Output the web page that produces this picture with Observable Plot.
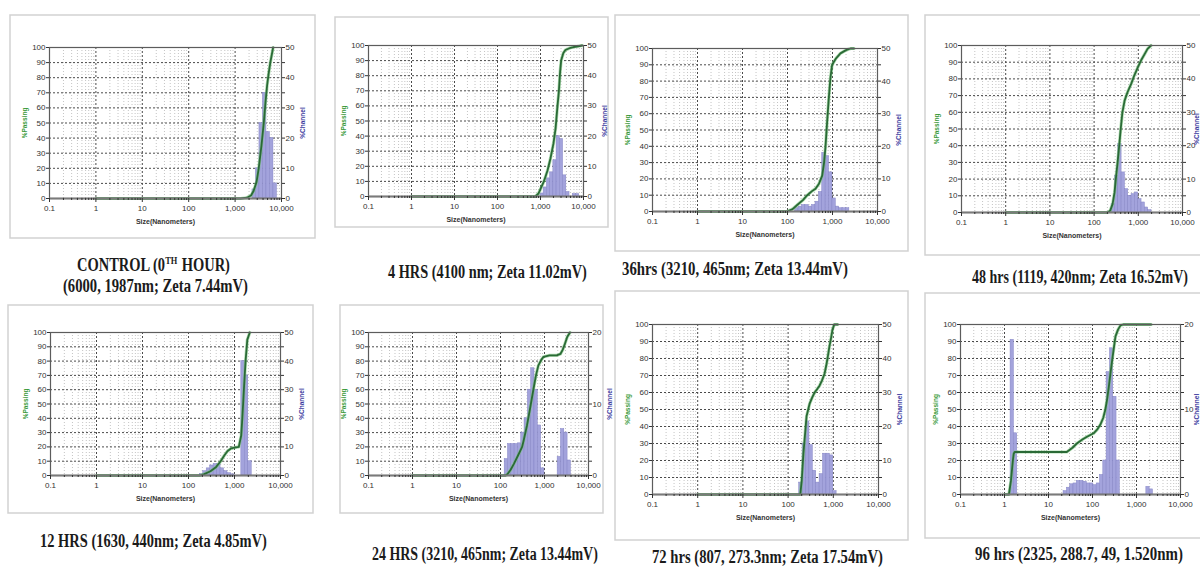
<!DOCTYPE html>
<html>
<head>
<meta charset="utf-8">
<script src="https://cdn.jsdelivr.net/npm/d3@7"></script>
<script src="https://cdn.jsdelivr.net/npm/@observablehq/plot@0.6"></script>
<style>
  html, body { margin: 0; padding: 0; background: #fff; }
  #wrap { position: relative; width: 1200px; height: 568px; overflow: hidden; background: #fff; }
  #wrap > svg { position: absolute; }
</style>
</head>
<body>
<div id="wrap"></div>
<script>
// ---------- shared axis values ----------
const xTickValues = [0.1, 1, 10, 100, 1000, 10000];
const xTickLabels = ["0.1", "1", "10", "100", "1,000", "10,000"];
const yTickValues = [0, 10, 20, 30, 40, 50, 60, 70, 80, 90, 100];
const minorMultipliers = [2, 3, 4, 5, 6, 7, 8, 9];
const RATIO = Math.pow(2, 0.25); // instrument channel width (upper/lower edge)

// ---------- CONTROL (0th hour) ----------
const p1Size = [2815, 3348, 3981, 4735, 5630, 6695, 7962];
const p1Chan = [3, 10, 25, 35, 22, 20, 5];
const p1CurveX = [1, 1300, 1800, 2200, 2500, 2900, 3230, 3700, 4150, 4500, 4900, 5300, 5740, 6600];
const p1CurveY = [0, 0, 0.5, 2, 5, 11, 20, 35, 50, 63, 75, 83, 90, 100];

// ---------- 4 HRS ----------
const p2Size = [1184, 1408, 1674, 1991, 2367, 2815, 3348, 3981, 4735, 6695, 7962];
const p2Chan = [1, 3, 6, 8, 12, 20, 19, 7, 1.5, 0.8, 0.8];
const p2CurveX = [1, 760, 900, 1200, 1450, 1700, 2000, 2240, 2450, 2680, 2850, 3020, 3400, 3800, 5000, 5900, 7500, 9300];
const p2CurveY = [0, 0, 2, 10, 17, 25, 35, 45, 58, 70, 82, 90, 95, 97, 98.5, 99, 99.5, 100];

// ---------- 36 hrs ----------
const p3Size = [176, 209.3, 248.9, 296, 352, 418.6, 497.8, 592, 704, 837.2, 995.6, 1184, 1408, 1674, 1991, 2367];
const p3Chan = [1, 1.5, 2, 2, 1.5, 2, 3, 6, 18, 17, 12, 4, 1.5, 1, 1, 1];
const p3CurveX = [1, 98, 130, 164, 220, 275, 350, 420, 500, 590, 650, 700, 760, 830, 900, 980, 1200, 1500, 2000, 2520, 3000];
const p3CurveY = [0, 0, 1.5, 4, 7, 10, 12.5, 14, 17, 22, 30, 40, 55, 70, 82, 90, 94, 97, 99, 100, 100];

// ---------- 48 hrs ----------
const p4Size = [296, 352, 418.6, 497.8, 592, 704, 837.2, 995.6, 1184, 1408, 1674, 1991];
const p4Chan = [2.5, 11, 20.5, 12, 7, 5, 5.5, 6, 4, 3, 1.5, 0.7];
const p4CurveX = [1, 200, 230, 262, 290, 310, 340, 370, 400, 437, 490, 570, 690, 810, 980, 1150, 1400, 1620, 1940];
const p4CurveY = [0, 0, 1, 5, 12, 20, 30, 40, 50, 60, 67, 72, 77, 82, 87, 91, 95, 98, 100];

// ---------- 12 HRS ----------
const p5Size = [209.3, 248.9, 296, 352, 418.6, 497.8, 592, 704, 837.2, 995.6, 1674, 1991, 2367];
const p5Chan = [0.5, 1.5, 2.5, 3.5, 4, 4, 2.5, 1.5, 0.8, 0.4, 40, 35, 5];
const p5CurveX = [1, 180, 220, 300, 400, 500, 600, 700, 850, 1000, 1240, 1400, 1480, 1600, 1740, 1900, 2150];
const p5CurveY = [0, 0, 1, 3, 6, 10, 14, 17, 19, 19.5, 20, 28, 40, 60, 80, 95, 100];

// ---------- 24 HRS ----------
const p6Size = [148, 176, 209.3, 248.9, 296, 352, 418.6, 497.8, 592, 704, 837.2, 995.6, 2367, 2815, 3348, 3981];
const p6Chan = [2.3, 4.4, 4.4, 4.4, 4.5, 6, 8, 12, 15, 12, 7, 1, 2.6, 6.5, 6, 2.1];
const p6CurveX = [1, 130, 145, 170, 200, 250, 310, 333, 400, 468, 562, 640, 726, 850, 955, 1300, 1900, 2300, 2600, 2900, 3300, 3800];
const p6CurveY = [0, 0, 1, 4, 8, 14, 20, 24, 35, 46.5, 60.5, 70, 77, 81, 83, 84, 84, 85, 88, 92, 97, 100];

// ---------- 72 hrs ----------
const p7Size = [209.3, 248.9, 296, 352, 418.6, 497.8, 592, 704, 837.2, 995.6, 1184];
const p7Chan = [3.5, 15, 21.5, 14.5, 7, 3.5, 6, 12, 12, 11.5, 1];
const p7CurveX = [1, 186, 200, 218, 256, 300, 340, 386, 440, 496, 560, 640, 700, 755, 820, 892, 960, 1050, 1250];
const p7CurveY = [0, 0, 8, 24, 46, 53.5, 57, 60, 62, 64, 67, 71, 76, 81, 87, 92, 97, 100, 100];

// ---------- 96 hrs ----------
const p8Size = [1.635, 1.945, 26.16, 31.11, 37, 44, 52.33, 62.23, 74, 88, 104.7, 124.5, 148, 176, 209.3, 248.9, 296, 352, 418.6, 1991, 2367];
const p8Chan = [18.2, 7.2, 0.4, 0.8, 1.2, 1.3, 1.6, 1.6, 1.5, 1.3, 1.3, 1.1, 1.3, 2.3, 4, 14.4, 17.2, 11.5, 4, 0.9, 0.6];
const p8CurveX = [1, 1.26, 1.4, 1.55, 1.62, 1.7, 26, 35, 44, 60, 75, 106, 130, 150, 175, 196, 215, 234, 255, 280, 305, 333, 380, 434, 500, 2150];
const p8CurveY = [0, 0, 8, 20, 24, 25, 25, 27.5, 30, 32.5, 34, 36, 38.5, 41, 45, 50, 56, 63, 71, 79, 86, 93, 97, 99.5, 100, 100];

// ---------- captions ----------
const captionFirst = ["CONTROL (0", "TH", " HOUR)"];
const captions = [
  "(6000, 1987nm; Zeta 7.44mV)",
  "4 HRS (4100 nm; Zeta 11.02mV)",
  "36hrs (3210, 465nm; Zeta 13.44mV)",
  "48 hrs (1119, 420nm; Zeta 16.52mV)",
  "12 HRS (1630, 440nm; Zeta 4.85mV)",
  "24 HRS (3210, 465nm; Zeta 13.44mV)",
  "72 hrs (807, 273.3nm; Zeta 17.54mV)",
  "96 hrs (2325, 288.7, 49, 1.520nm)"
];

// ---------- layout ----------
const panels = [
  {sizes: p1Size, chans: p1Chan, cx: p1CurveX, cy: p1CurveY, rmax: 50, box: [49, 281, 47, 198], chDx: 21},
  {sizes: p2Size, chans: p2Chan, cx: p2CurveX, cy: p2CurveY, rmax: 50, box: [368, 583, 45, 196], chDx: 21},
  {sizes: p3Size, chans: p3Chan, cx: p3CurveX, cy: p3CurveY, rmax: 50, box: [652, 877, 48, 211], chDx: 21},
  {sizes: p4Size, chans: p4Chan, cx: p4CurveX, cy: p4CurveY, rmax: 50, box: [961, 1182, 45, 212], chDx: 14.5},
  {sizes: p5Size, chans: p5Chan, cx: p5CurveX, cy: p5CurveY, rmax: 50, box: [50, 280, 332, 475], chDx: 21},
  {sizes: p6Size, chans: p6Chan, cx: p6CurveX, cy: p6CurveY, rmax: 20, box: [368, 588, 332, 475], chDx: 21},
  {sizes: p7Size, chans: p7Chan, cx: p7CurveX, cy: p7CurveY, rmax: 50, box: [652, 878, 324, 494], chDx: 21},
  {sizes: p8Size, chans: p8Chan, cx: p8CurveX, cy: p8CurveY, rmax: 20, box: [960, 1180, 324, 494], chDx: 16}
];
const frames = [
  [10, 15, 315, 238], [335, 17, 608, 227], [615, 15, 908, 251], [925, 15, 1205, 255],
  [8, 305, 313, 513], [340, 305, 603, 513], [615, 291, 908, 540], [925, 293, 1205, 538]
];

const wrap = document.getElementById("wrap");
const FONT = "'Liberation Serif', 'DejaVu Serif', serif";

// background: frames and captions
const bg = d3.select(wrap).append("svg")
  .attr("width", 1200).attr("height", 568)
  .style("left", "0px").style("top", "0px");
bg.selectAll("rect.fr").data(frames).join("rect")
  .attr("x", d => d[0]).attr("y", d => d[1])
  .attr("width", d => d[2] - d[0]).attr("height", d => d[3] - d[1])
  .attr("fill", "#fff").attr("stroke", "#d2d2d2").attr("stroke-width", 1.5);

// captions: natural-width text, compressed horizontally with a transform
function caption(parts, x0, x1, y) {
  const g = bg.append("g");
  let cursor = 0;
  parts.forEach(part => {
    const t = g.append("text")
      .attr("x", cursor).attr("y", part.sup ? -7 : 0)
      .attr("font-family", FONT).attr("font-weight", "bold")
      .attr("font-size", part.sup ? 11 : 19).attr("fill", "#1b1b1b")
      .style("white-space", "pre")
      .text(part.s);
    cursor += t.node().getComputedTextLength() + (part.sup ? 1 : 0);
  });
  g.attr("transform", `translate(${x0},${y}) scale(${(x1 - x0) / cursor},1)`);
}
caption(captionFirst.map((s, i) => ({s, sup: i === 1})), 77, 230, 271);

const capPos = [
  [63, 248, 292], [388, 587, 278], [622, 848, 275],
  [972, 1188, 283], [40, 267, 547], [372, 598, 560], [652, 883, 563], [975, 1183, 560]
];
capPos.forEach((p, i) => caption([{s: captions[i], sup: false}], p[0], p[1], p[2]));

const minor = xTickValues.slice(0, 5).flatMap(d => minorMultipliers.map(m => d * m));
const xLabelMap = new Map(xTickValues.map((v, i) => [v, xTickLabels[i]]));

panels.forEach(p => {
  const [L, R, T, B] = p.box;
  const ml = 40, mr = 40, mt = 8, mb = 34;
  const k = 100 / p.rmax;
  const bars = p.sizes.map((s, i) => ({x1: s / RATIO, x2: s, v: p.chans[i] * k}));
  const curve = p.cx.map((x, i) => ({x, y: p.cy[i]}));
  const rightFmt = p.rmax === 50
    ? (d => d % 20 === 0 ? String(d / 2) : "")
    : (d => d % 50 === 0 ? String(d / 5) : "");
  const chart = Plot.plot({
    width: R - L + ml + mr,
    height: B - T + mt + mb,
    marginLeft: ml, marginRight: mr, marginTop: mt, marginBottom: mb,
    x: {type: "log", domain: [0.1, 10000]},
    y: {domain: [0, 100]},
    style: {background: "transparent", fontFamily: "'Liberation Sans', Arial, sans-serif", fontSize: "8px", color: "#333", maxWidth: "none", overflow: "visible"},
    marks: [
      Plot.ruleX(minor, {stroke: "#c4c4c4", strokeDasharray: "1,2"}),
      Plot.ruleX([1, 10, 100, 1000], {stroke: "#4a4a4a", strokeDasharray: "2,2"}),
      Plot.ruleY([10, 20, 30, 40, 50, 60, 70, 80, 90], {stroke: "#4a4a4a", strokeDasharray: "2,2"}),
      Plot.rect(bars, {x1: "x1", x2: "x2", y1: () => 0, y2: "v", fill: "#a3a3dc", stroke: "#8585c6", strokeWidth: 0.5}),
      Plot.line(curve, {x: "x", y: "y", stroke: "#7bc47f", strokeWidth: 3.2, strokeOpacity: 0.6}),
      Plot.line(curve, {x: "x", y: "y", stroke: "#2a6a36", strokeWidth: 1.8}),
      Plot.frame({stroke: "#5c5c5c", strokeWidth: 1.2}),
      Plot.ruleY([0], {stroke: "#7a7a7a", strokeWidth: 2}),
      Plot.axisY({anchor: "left", ticks: yTickValues, tickSize: 3, tickPadding: 1, label: null, fontSize: 8}),
      Plot.axisY({anchor: "right", ticks: yTickValues, tickFormat: rightFmt, tickSize: 3, tickPadding: 1, label: null, fontSize: 8}),
      Plot.axisX({ticks: xTickValues, tickFormat: d => xLabelMap.get(d), tickSize: 4, tickPadding: 3, label: null, fontSize: 8}),
      Plot.axisX({ticks: minor, tickFormat: () => "", tickSize: 2, label: null}),
      Plot.text(["%Passing"], {frameAnchor: "left", rotate: -90, dx: -25, textAnchor: "middle", fill: "#3a9a3a", fontSize: 6.5, fontWeight: "bold"}),
      Plot.text(["%Channel"], {frameAnchor: "right", rotate: -90, dx: p.chDx, textAnchor: "middle", fill: "#3b3ba0", fontSize: 6.5, fontWeight: "bold"}),
      Plot.text(["Size(Nanometers)"], {frameAnchor: "bottom", dy: 25, textAnchor: "middle", fill: "#333", fontSize: 7, fontWeight: "bold"})
    ]
  });
  chart.style.left = (L - ml) + "px";
  chart.style.top = (T - mt) + "px";
  chart.style.position = "absolute";
  wrap.appendChild(chart);
});
</script>
</body>
</html>
